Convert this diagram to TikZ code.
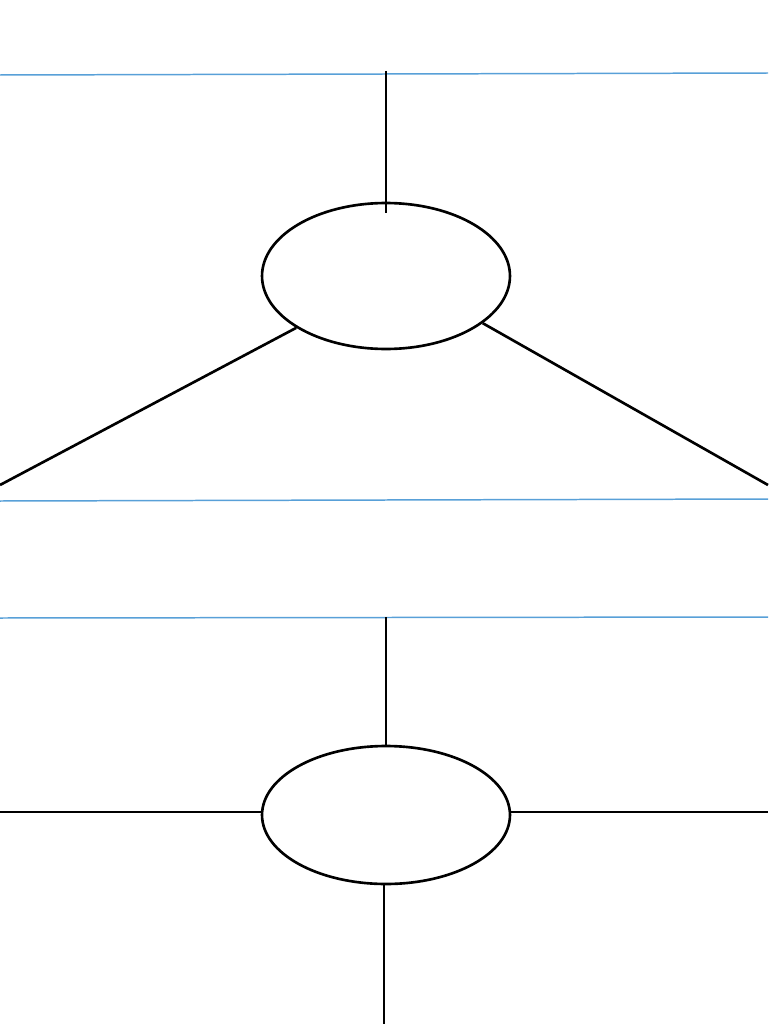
\documentclass[tikz,border=0pt]{standalone}
\usetikzlibrary{shapes.geometric}
\definecolor{guide}{RGB}{88,160,216}
\begin{document}
\begin{tikzpicture}[x=0.02cm,y=-0.02cm,
  blk/.style={draw=black,line width=1.5pt},
  guideline/.style={draw=guide,line width=0.85pt},
  oval/.style={ellipse,draw=black,line width=1.5pt,minimum width=4.96cm,inner sep=0pt}]
\useasboundingbox[fill=white] (0,0) rectangle (768,1024);
% guide lines
\coordinate (g1l) at (0,75); \coordinate (g1r) at (768,73);
\coordinate (g2l) at (0,501); \coordinate (g2r) at (768,499);
\coordinate (g3l) at (0,618); \coordinate (g3r) at (768,617);
\draw[guideline] (g1l) -- (g1r);
\draw[guideline] (g2l) -- (g2r);
\draw[guideline] (g3l) -- (g3r);
% top diagram
\node[oval,minimum height=2.92cm] (e1) at (386,276) {};
\coordinate (t1) at (386,71);
\coordinate (t1b) at (386,213);
\coordinate (dl) at (0,485);
\coordinate (dr) at (768,485);
\draw[blk] (t1) -- (t1b);
\draw[blk] (e1.-150.5) -- (dl);
\draw[blk] (e1.-26.8) -- (dr);
% bottom diagram
\node[oval,minimum height=2.76cm] (e2) at (386,815) {};
\coordinate (t2) at (386,617);
\coordinate (l2) at (0,812);
\coordinate (r2) at (768,812);
\coordinate (b2) at (384,1024);
\draw[blk] (t2) -- (e2.north);
\draw[blk] (l2) -- (l2 -| e2.west);
\draw[blk] (r2 -| e2.east) -- (r2);
\draw[blk] (e2.south -| b2) -- (b2);
\end{tikzpicture}
\end{document}
